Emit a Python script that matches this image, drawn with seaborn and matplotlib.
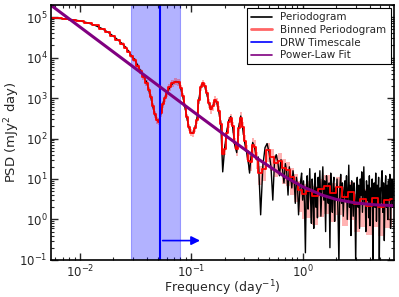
import numpy as np
import matplotlib
matplotlib.use("Agg")
import matplotlib.pyplot as plt
import seaborn as sns
from matplotlib.lines import Line2D

# binned periodogram (bin centres, mean power, relative error)
bin_freq = [0.0055, 0.00635, 0.00734, 0.00848, 0.0100, 0.0118, 0.0136, 0.01575,
            0.01782, 0.01977, 0.02192, 0.0238, 0.02586, 0.02751, 0.02926, 0.03113,
            0.03312, 0.03524, 0.0375, 0.0399, 0.04158, 0.04333, 0.04516, 0.04706,
            0.04904, 0.0511, 0.05326, 0.0555, 0.05784, 0.0603, 0.06413, 0.06823,
            0.0726, 0.0772, 0.0805, 0.0839, 0.0874, 0.0911, 0.095, 0.099,
            0.1031, 0.1075, 0.112, 0.1168, 0.1217, 0.1268, 0.1322, 0.1377,
            0.1435, 0.1496, 0.1559, 0.1625, 0.1694, 0.1765, 0.1839, 0.1916,
            0.1997, 0.2082, 0.2169, 0.2261, 0.2356, 0.2455, 0.2559, 0.2667,
            0.2779, 0.2896, 0.3018, 0.3146, 0.3278, 0.3416, 0.356, 0.371,
            0.3867, 0.411, 0.447, 0.4855, 0.527, 0.573, 0.622, 0.676,
            0.734, 0.797, 0.866, 0.940, 1.021, 1.132, 1.281, 1.450,
            1.641, 1.858, 2.103, 2.381, 2.695, 3.05, 3.45, 3.91,
            4.42, 5.01, 5.67, 6.41]
bin_psd = [93300, 93300, 91200, 87100, 81300, 72400, 63100, 52500,
           42700, 34700, 27500, 22400, 17800, 14100, 10700, 8900,
           6300, 4570, 3310, 2400, 1580, 1070, 630, 400,
           290, 263, 417, 708, 1000, 1320, 1860, 2340,
           2570, 2510, 1780, 1120, 630, 340, 190, 141,
           135, 178, 282, 890, 1900, 2340, 2000, 1320,
           760, 525, 630, 890, 790, 480, 224, 42,
           56, 141, 263, 316, 200, 79, 56, 178,
           331, 190, 89, 50, 28, 26, 71, 63,
           32, 14, 18, 52, 35, 25, 28, 19,
           16.6, 11.2, 7.9, 5.2, 4.2, 5.0, 3.7, 5.6,
           6.9, 4.4, 6.3, 3.5, 4.8, 2.4, 3.2, 2.1,
           3.3, 2.0, 3.0, 3.2]
bin_relerr = [0.03, 0.03, 0.03, 0.03, 0.03, 0.04, 0.04, 0.05,
              0.05, 0.06, 0.06, 0.07, 0.08, 0.1, 0.1, 0.12,
              0.12, 0.15, 0.15, 0.15, 0.18, 0.2, 0.2, 0.2,
              0.2, 0.2, 0.2, 0.2, 0.2, 0.2, 0.2, 0.2,
              0.2, 0.2, 0.2, 0.2, 0.2, 0.2, 0.2, 0.2,
              0.2, 0.2, 0.2, 0.2, 0.2, 0.2, 0.2, 0.2,
              0.25, 0.25, 0.25, 0.25, 0.25, 0.3, 0.3, 0.3,
              0.3, 0.3, 0.3, 0.3, 0.3, 0.3, 0.35, 0.35,
              0.35, 0.35, 0.4, 0.4, 0.4, 0.4, 0.45, 0.45,
              0.45, 0.5, 0.5, 0.5, 0.55, 0.55, 0.55, 0.6,
              0.6, 0.65, 0.65, 0.7, 0.75, 0.78, 0.8, 0.8,
              0.8, 0.8, 0.8, 0.8, 0.8, 0.8, 0.8, 0.8,
              0.8, 0.8, 0.8, 0.8]

# raw periodogram above 0.18 /day (below it each bin holds one point)
pg_freq = [0.1839, 0.1916, 0.1997, 0.2082, 0.2169, 0.2261, 0.2356, 0.2455,
           0.2559, 0.2667, 0.2779, 0.2896, 0.3018, 0.3146, 0.3278, 0.3339,
           0.3416, 0.356, 0.371, 0.3867,
           0.40, 0.42, 0.44, 0.46, 0.48, 0.50, 0.52, 0.54, 0.56, 0.58,
           0.60, 0.62, 0.64, 0.66, 0.68, 0.70, 0.72, 0.74, 0.76, 0.78,
           0.80, 0.82, 0.84, 0.86, 0.88, 0.90, 0.92, 0.94, 0.96, 0.98, 1.00,
           1.02, 1.04, 1.06, 1.08, 1.10, 1.12, 1.14, 1.16, 1.18, 1.20,
           1.22, 1.24, 1.26, 1.28, 1.30, 1.32, 1.34, 1.36, 1.38, 1.40,
           1.43, 1.46, 1.49, 1.52, 1.55, 1.58, 1.61, 1.64, 1.67, 1.70,
           1.73, 1.76, 1.79, 1.82, 1.85, 1.88, 1.91, 1.94, 1.97, 2.00,
           2.04, 2.08, 2.12, 2.16, 2.20, 2.24, 2.28, 2.32, 2.36, 2.40,
           2.44, 2.48, 2.52, 2.56, 2.60, 2.64, 2.68, 2.72, 2.76, 2.80,
           2.85, 2.90, 2.95, 3.00, 3.05, 3.10, 3.15, 3.20, 3.25, 3.30,
           3.35, 3.40, 3.45, 3.50, 3.55, 3.60, 3.65, 3.70, 3.75, 3.80,
           3.86, 3.92, 3.98, 4.04, 4.10, 4.16, 4.22, 4.28, 4.34, 4.40,
           4.47, 4.54, 4.61, 4.68, 4.75, 4.82, 4.89, 4.96, 5.03, 5.10,
           5.18, 5.26, 5.34, 5.42, 5.50, 5.58, 5.66, 5.74, 5.82, 5.90,
           5.99, 6.08, 6.17, 6.26, 6.35, 6.44, 6.53, 6.62]
pg_psd = [250, 15, 60, 150, 280, 350, 190, 70,
          45, 190, 360, 180, 80, 45, 22, 14,
          30, 80, 60, 30,
          35, 1.3, 22, 60, 75, 45, 20, 3, 30, 40,
          25, 12, 30, 18, 8, 24, 15, 4, 20, 12,
          6, 16, 9, 2.5, 11, 7, 1.3, 4, 9, 14, 3,
          9, 2.5, 0.15, 6, 12, 1.8, 5, 18, 3, 0.8,
          10, 4, 0.6, 7, 14, 2, 6, 1.1, 11, 4,
          16, 1.2, 6, 20, 3, 9, 0.5, 12, 5, 2.5,
          8, 0.2, 14, 4, 1.5, 7, 11, 0.9, 6, 3,
          10, 1.5, 0.08, 6, 13, 2.5, 8, 1.2, 5, 9,
          3, 12, 1, 5, 22, 2, 7, 0.4, 9, 4,
          1.2, 8, 3, 0.08, 6, 11, 2, 7, 0.6, 10,
          4, 15, 1.5, 6, 20, 2.5, 5, 0.5, 9, 3,
          7, 1.1, 12, 0.7, 6, 3, 10, 0.08, 5, 8,
          2, 14, 0.9, 7, 3, 11, 0.09, 6, 2.5, 9,
          16, 1.5, 8, 0.3, 5, 12, 2, 7, 1, 9,
          3, 13, 0.6, 6, 10, 2, 8, 4]

# power-law fit
fit_freq = [0.0055, 0.01, 0.02, 0.05, 0.1, 0.2, 0.4, 0.7, 1.0, 1.5, 2.0, 3.0, 4.5, 6.7]
fit_psd = [197000, 57350, 13760, 2084, 501, 121.9, 30.9, 11.2, 6.45, 3.99, 3.14, 2.55, 2.30, 2.19]

# DRW timescale and its range
drw_freq = 0.0522
drw_lo, drw_hi = 0.0286, 0.0787
arrow_end = 0.127
arrow_y = 0.3

sns.set_style("ticks")
plt.rcParams["font.family"] = ["DejaVu Sans"]

bin_freq = np.array(bin_freq)
bin_psd = np.array(bin_psd)
bin_relerr = np.array(bin_relerr)
low = bin_freq < 0.18
freq = np.concatenate([bin_freq[low], pg_freq])
psd = np.concatenate([bin_psd[low], pg_psd])

fig = plt.figure(figsize=(3.99, 2.97), dpi=100)
ax = fig.add_axes([0.128, 0.125, 0.859, 0.858])

ax.axvspan(drw_lo, drw_hi, color="b", alpha=0.3, lw=0.8)

sns.lineplot(x=freq, y=psd, ax=ax, color="k", lw=1.0, estimator=None, sort=False)

lo = np.clip(bin_psd * (1 - bin_relerr), 1e-3, None)
hi = bin_psd * (1 + bin_relerr)
ax.fill_between(bin_freq, lo, hi, step="mid", color="r", alpha=0.3, lw=0)
ax.step(bin_freq, bin_psd, where="mid", color="r", lw=1.3)

ax.axvline(drw_freq, color="b", lw=1.5)
ax.annotate("", xy=(arrow_end, arrow_y), xytext=(drw_freq, arrow_y),
            arrowprops=dict(arrowstyle="-|>", color="b", lw=1.2, mutation_scale=13))

sns.lineplot(x=fit_freq, y=fit_psd, ax=ax, color="purple", lw=2.2, estimator=None, sort=False)

ax.set_xscale("log")
ax.set_yscale("log")
ax.set_xlim(0.0055, 6.6)
ax.set_ylim(0.1, 2e5)
ax.set_xlabel("Frequency (day$^{-1}$)", fontsize=9)
ax.set_ylabel("PSD (mJy$^2$ day)", fontsize=9.5)
ax.xaxis.set_label_coords(0.5, -0.072)
ax.yaxis.set_label_coords(-0.085, 0.5)
ax.tick_params(which="both", direction="in", top=True, right=True, labelsize=8.5)
ax.tick_params(which="major", length=5, width=1, pad=2.5)
ax.tick_params(which="minor", length=2.5, width=0.8)
for s in ax.spines.values():
    s.set_linewidth(1.2)
    s.set_color("k")

handles = [Line2D([], [], color="k", lw=1.2),
           Line2D([], [], color="r", lw=2, alpha=0.6),
           Line2D([], [], color="b", lw=1.2),
           Line2D([], [], color="purple", lw=1.2)]
labels = ["Periodogram", "Binned Periodogram", "DRW Timescale", "Power-Law Fit"]
leg = ax.legend(handles, labels, loc="upper right", fontsize=7.5, fancybox=False,
                framealpha=1, edgecolor="k", borderaxespad=0.3, handlelength=2.0,
                labelspacing=0.25)
leg.get_frame().set_linewidth(0.8)

fig.savefig("out.png", dpi=100)
